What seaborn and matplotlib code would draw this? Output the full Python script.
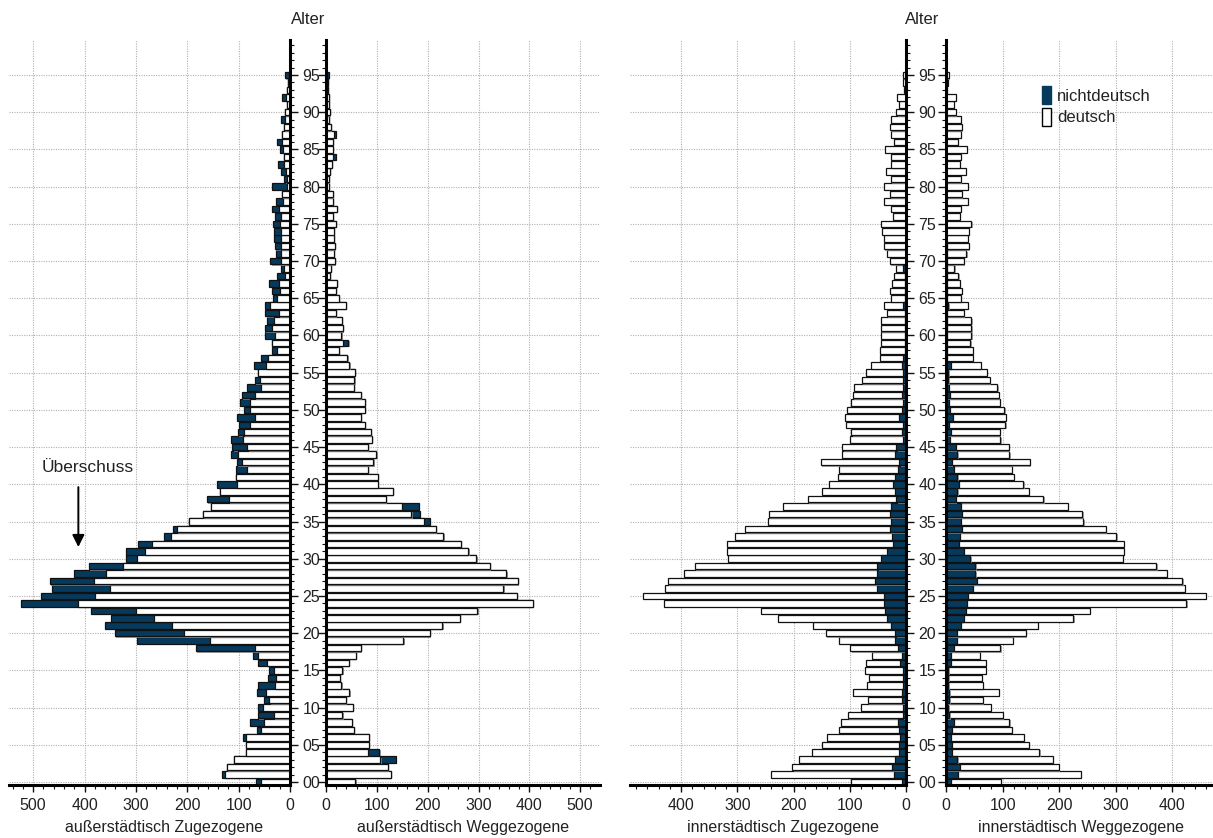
import numpy as np
import seaborn as sns
import matplotlib.pyplot as plt
import matplotlib.patheffects as pe
from matplotlib.patches import Patch
from matplotlib.ticker import MultipleLocator

# Alter 0..95
ages = np.arange(96)

# außerstädtisch Zugezogene
aus_zu_deutsch = [57, 126, 123, 109, 85, 85, 85, 56, 51, 32,
                  53, 40, 47, 30, 28, 32, 45, 62, 68, 155,
                  206, 230, 264, 300, 412, 380, 350, 382, 359, 325,
                  297, 283, 268, 232, 220, 197, 170, 153, 119, 136,
                  104, 105, 83, 94, 101, 83, 91, 90, 77, 69,
                  78, 78, 69, 56, 58, 62, 47, 43, 26, 35,
                  30, 35, 32, 22, 38, 26, 19, 22, 9, 11,
                  18, 18, 18, 18, 18, 19, 18, 22, 14, 16,
                  6, 5, 8, 12, 12, 13, 16, 16, 12, 10,
                  10, 5, 8, 5, 3, 2]
aus_zu_nicht = [10, 7, 0, 0, 0, 0, 7, 9, 27, 30,
                9, 11, 18, 32, 14, 8, 18, 10, 115, 142,
                135, 130, 84, 87, 111, 104, 114, 85, 62, 66,
                23, 37, 27, 13, 8, 0, 0, 0, 43, 0,
                39, 0, 22, 9, 14, 29, 24, 11, 22, 34,
                11, 20, 24, 27, 11, 0, 24, 13, 9, 0,
                18, 14, 13, 26, 10, 8, 17, 18, 16, 6,
                20, 9, 12, 14, 13, 14, 11, 13, 13, 0,
                30, 6, 10, 11, 0, 6, 9, 0, 0, 7,
                0, 0, 8, 0, 0, 8]

# außerstädtisch Weggezogene
aus_weg_deutsch = [58, 127, 122, 107, 83, 85, 85, 55, 51, 32,
                   53, 39, 46, 30, 27, 32, 45, 59, 68, 152,
                   204, 229, 263, 298, 407, 376, 349, 378, 355, 322,
                   296, 280, 265, 231, 216, 193, 168, 149, 118, 131,
                   102, 102, 82, 93, 99, 83, 90, 88, 76, 68,
                   76, 76, 68, 55, 56, 57, 46, 42, 26, 33,
                   30, 33, 31, 19, 39, 25, 19, 21, 7, 10,
                   17, 15, 17, 15, 16, 19, 13, 21, 13, 14,
                   6, 5, 7, 12, 13, 13, 13, 15, 10, 6,
                   8, 5, 5, 4, 4, 1]
aus_weg_nicht = [0, 0, 0, 30, 22, 0, 0, 0, 0, 0,
                 0, 0, 0, 0, 0, 0, 0, 0, 0, 0,
                 0, 0, 0, 0, 0, 0, 0, 0, 0, 0,
                 0, 0, 0, 0, 0, 12, 17, 34, 0, 0,
                 0, 0, 0, 0, 0, 0, 0, 0, 0, 0,
                 0, 0, 0, 0, 0, 0, 0, 0, 0, 11,
                 0, 0, 0, 0, 0, 0, 0, 0, 0, 0,
                 0, 0, 0, 0, 0, 0, 0, 0, 0, 0,
                 0, 0, 0, 0, 6, 0, 0, 5, 0, 0,
                 0, 0, 0, 0, 0, 4]

# innerstädtisch Zugezogene
inn_zu_deutsch = [90, 219, 177, 172, 155, 137, 130, 107, 101, 97,
                  75, 60, 88, 64, 60, 68, 62, 53, 85, 100,
                  123, 138, 194, 220, 392, 427, 377, 368, 343, 325,
                  272, 285, 295, 280, 258, 219, 215, 191, 157, 130,
                  114, 102, 106, 139, 94, 96, 94, 90, 101, 96,
                  98, 92, 87, 86, 73, 67, 56, 42, 45, 42,
                  43, 43, 43, 32, 35, 25, 27, 23, 20, 12,
                  29, 34, 40, 40, 42, 45, 24, 26, 40, 29,
                  40, 27, 36, 27, 27, 38, 21, 27, 29, 27,
                  17, 13, 16, 3, 5, 5]
inn_zu_nicht = [8, 22, 25, 19, 12, 12, 10, 12, 14, 6,
                5, 8, 7, 5, 5, 5, 10, 8, 14, 19,
                19, 27, 34, 38, 39, 40, 51, 55, 52, 51,
                44, 34, 24, 25, 29, 27, 29, 27, 17, 19,
                23, 19, 14, 12, 19, 17, 5, 7, 5, 12,
                7, 6, 7, 6, 5, 5, 7, 5, 2, 2,
                2, 2, 2, 2, 5, 2, 2, 2, 2, 5,
                0, 0, 0, 0, 0, 0, 0, 0, 0, 0,
                0, 0, 0, 0, 0, 0, 0, 0, 0, 0,
                0, 0, 0, 0, 0, 0]

# innerstädtisch Weggezogene
inn_weg_deutsch = [89, 217, 175, 169, 154, 135, 129, 105, 98, 94,
                   75, 59, 87, 61, 60, 67, 62, 52, 82, 99,
                   122, 137, 193, 220, 388, 420, 374, 363, 338, 320,
                   270, 282, 291, 277, 254, 217, 213, 189, 154, 126,
                   114, 100, 102, 137, 92, 93, 89, 87, 100, 94,
                   96, 90, 87, 86, 74, 68, 54, 45, 45, 41,
                   43, 43, 43, 30, 35, 24, 26, 22, 20, 13,
                   29, 34, 39, 39, 41, 45, 24, 26, 39, 28,
                   39, 26, 35, 24, 26, 37, 21, 26, 28, 26,
                   17, 14, 17, 2, 3, 5]
inn_weg_nicht = [8, 21, 24, 20, 11, 11, 9, 11, 14, 6,
                 4, 6, 6, 4, 4, 4, 9, 8, 14, 19,
                 19, 26, 32, 35, 37, 39, 48, 55, 52, 52,
                 43, 32, 23, 24, 28, 26, 28, 26, 18, 20,
                 23, 20, 14, 11, 20, 18, 7, 8, 5, 12,
                 7, 5, 7, 5, 4, 4, 8, 2, 2, 2,
                 2, 2, 2, 2, 4, 2, 2, 2, 2, 2,
                 2, 2, 2, 0, 0, 0, 0, 0, 0, 0,
                 0, 0, 0, 0, 0, 0, 0, 0, 0, 0,
                 0, 0, 0, 0, 0, 0]

titles = ["außerstädtisch Zugezogene", "außerstädtisch Weggezogene",
          "innerstädtisch Zugezogene", "innerstädtisch Weggezogene"]

sns.set_theme(style="white")
plt.rcParams['font.family'] = ['Liberation Sans', 'DejaVu Sans']
plt.rcParams['text.color'] = '#222222'
plt.rcParams['xtick.color'] = '#111111'
plt.rcParams['ytick.color'] = '#111111'
plt.rcParams['xtick.labelcolor'] = '#222222'
plt.rcParams['ytick.labelcolor'] = '#222222'

dark = '#053a5c'
edge = '#111111'
W, H = 1213, 838
fig = plt.figure(figsize=(W / 100, H / 100), dpi=100)


def add_ax(left, right, bottom=785, top=40):
    return fig.add_axes([left / W, 1 - bottom / H, (right - left) / W, (bottom - top) / H])


def bars(ax, vals, color):
    sns.barplot(x=np.asarray(vals), y=ages, orient='y', native_scale=True,
                color=color, saturation=1, edgecolor=edge, linewidth=0.9,
                width=0.88, errorbar=None, ax=ax)


def draw(ax, deutsch, nicht, dark_outside, xmax, flip, ylabels):
    deutsch = np.asarray(deutsch)
    nicht = np.asarray(nicht)
    total = deutsch + nicht
    if dark_outside:
        bars(ax, total, dark)
        bars(ax, deutsch, 'white')
    else:
        bars(ax, total, 'white')
        bars(ax, nicht, dark)
    shadow = [pe.SimplePatchShadow(offset=(0.9, -0.9), shadow_rgbFace='0.55', alpha=0.8), pe.Normal()]
    for p in ax.patches:
        p.set_path_effects(shadow)

    ax.set_ylim(-0.4, 99.7)
    if flip:
        ax.set_xlim(xmax, 0)
    else:
        ax.set_xlim(0, xmax)
    ax.set_xlabel('')
    ax.set_ylabel('')
    ax.xaxis.set_major_locator(MultipleLocator(100))
    ax.xaxis.set_minor_locator(MultipleLocator(20))
    ax.yaxis.set_major_locator(MultipleLocator(5))
    ax.yaxis.set_minor_locator(MultipleLocator(1))
    ax.grid(True, which='major', linestyle=(0, (1, 1.2)), color='#b0b0b0', lw=0.8)
    ax.set_axisbelow(True)
    for s in ax.spines.values():
        s.set_visible(False)
    side = 'right' if flip else 'left'
    ax.spines['bottom'].set_visible(True)
    ax.spines[side].set_visible(True)
    ax.spines['bottom'].set_linewidth(2.2)
    ax.spines[side].set_linewidth(2.2)
    ax.spines['bottom'].set_color('black')
    ax.spines[side].set_color('black')
    ax.tick_params(axis='x', which='major', bottom=True, length=5, width=1, direction='out',
                   labelsize=11.5, pad=4)
    ax.tick_params(axis='x', which='minor', bottom=True, length=3, width=0.8, direction='out')
    ax.tick_params(axis='y', which='both', left=not flip, right=flip, direction='out',
                   labelleft=False, labelright=ylabels and flip)
    ax.tick_params(axis='y', which='major', length=6, width=1, labelsize=11.5, pad=3)
    ax.tick_params(axis='y', which='minor', length=3, width=0.8)
    ax.set_yticks(range(0, 100, 5))
    ax.set_yticklabels([f"{a:02d}" for a in range(0, 100, 5)])
    ax.set_xticks(range(0, int(xmax) + 1, 100))
    ax.set_xticklabels([str(v) for v in range(0, int(xmax) + 1, 100)])


ax1 = add_ax(9, 290)
ax2 = add_ax(326, 600)
ax3 = add_ax(630, 906)
ax4 = add_ax(946, 1213)

draw(ax1, aus_zu_deutsch, aus_zu_nicht, True, 547, True, True)
draw(ax2, aus_weg_deutsch, aus_weg_nicht, True, 539, False, False)
draw(ax3, inn_zu_deutsch, inn_zu_nicht, False, 491, True, True)
draw(ax4, inn_weg_deutsch, inn_weg_nicht, False, 472, False, False)

for xc, t in zip([164, 463, 783, 1081], titles):
    fig.text(xc / W, 1 - 827 / H, t, ha='center', va='center', fontsize=11.5)
for xc in [308, 922]:
    fig.text(xc / W, 1 - 20 / H, 'Alter', ha='center', va='center', fontsize=12)

ax1.text(393, 42.2, 'Überschuss', ha='center', va='center', fontsize=12.5)
ax1.annotate('', xy=(412, 31.2), xytext=(412, 40.0),
             arrowprops=dict(arrowstyle='-|>', color='black', lw=1.4, mutation_scale=18))

handles = [Patch(facecolor=dark, edgecolor=dark), Patch(facecolor='white', edgecolor='black')]
ax4.legend(handles, ['nichtdeutsch', 'deutsch'], loc='upper left', bbox_to_anchor=(0.36, 0.938),
           frameon=False, handlelength=0.55, handleheight=1.3, handletextpad=0.35,
           labelspacing=0.2, fontsize=12, borderaxespad=0, borderpad=0)

fig.savefig('out.png', dpi=100)
